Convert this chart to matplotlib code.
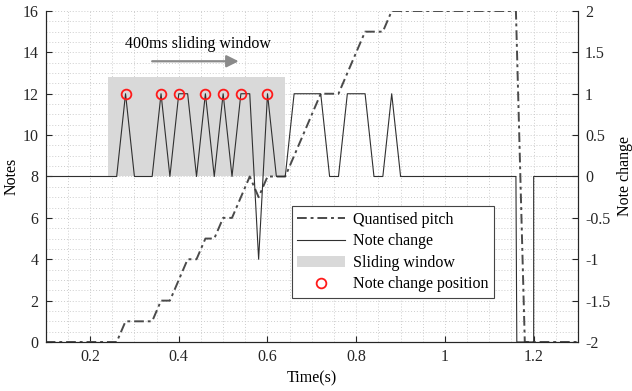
import numpy as np
import matplotlib
matplotlib.use("Agg")
import matplotlib.pyplot as plt
from matplotlib.ticker import MultipleLocator, FormatStrFormatter

# quantised pitch (left axis, notes)
pitch_t = [0.10, 0.26, 0.28, 0.34, 0.36, 0.38, 0.42, 0.44, 0.46, 0.48, 0.50, 0.52,
           0.56, 0.58, 0.60, 0.64, 0.72, 0.76, 0.82, 0.86, 0.88, 1.16, 1.18, 1.30]
pitch_v = [0, 0, 1, 1, 2, 2, 4, 4, 5, 5, 6, 6,
           8, 7, 8, 8, 12, 12, 15, 15, 16, 16, 0, 0]

# note change (right axis)
change_t = [0.10, 0.26, 0.28, 0.30, 0.34, 0.36, 0.38, 0.40, 0.42, 0.44, 0.46, 0.48,
            0.50, 0.52, 0.54, 0.56, 0.58, 0.60, 0.62, 0.64, 0.66, 0.72, 0.74, 0.76,
            0.78, 0.82, 0.84, 0.86, 0.88, 0.90, 1.16, 1.162, 1.20, 1.20, 1.30]
change_v = [0, 0, 1, 0, 0, 1, 0, 1, 1, 0, 1, 0,
            1, 0, 1, 1, -1, 1, 0, 0, 1, 1, 0, 0,
            1, 1, 0, 0, 1, 0, 0, -2, -2, 0, 0]

# note change positions
mark_t = [0.28, 0.36, 0.40, 0.46, 0.50, 0.54, 0.60]
mark_v = [1, 1, 1, 1, 1, 1, 1]

# 400 ms sliding window
win_t = [0.24, 0.64]
win_low, win_high = 8, 12.8

plt.rcParams.update({
    "font.family": "serif",
    "font.serif": ["Liberation Serif", "DejaVu Serif"],
    "font.size": 11,
    "axes.unicode_minus": False,
})

fig = plt.figure(figsize=(6.32, 3.91), dpi=100)
ax = fig.add_axes([0.0723, 0.1253, 0.8423, 0.8466])
ax2 = ax.twinx()

grid_kw = dict(color="#cdcdcd", linestyle=(0, (1, 2)), linewidth=0.7)
ax.set_xlim(0.1, 1.3)
ax.set_ylim(0, 16)
ax.xaxis.set_major_locator(MultipleLocator(0.2))
ax.xaxis.set_minor_locator(MultipleLocator(0.05))
ax.yaxis.set_major_locator(MultipleLocator(2))
ax.yaxis.set_minor_locator(MultipleLocator(0.5))
ax.xaxis.set_major_formatter(FormatStrFormatter("%g"))
ax.grid(True, which="both", **grid_kw)
ax.set_axisbelow(True)

win = ax.fill_between(win_t, win_low, win_high, color="#d9d9d9", linewidth=0,
                      label="Sliding window", zorder=1)
pl, = ax.plot(pitch_t, pitch_v, color="#4a4a4a", linewidth=1.4,
              linestyle=(0, (5, 2, 1.5, 2)), label="Quantised pitch", zorder=3)

ax2.set_ylim(-2, 2)
ax2.yaxis.set_major_locator(MultipleLocator(0.5))
ax2.yaxis.set_major_formatter(FormatStrFormatter("%g"))
cl, = ax2.plot(change_t, change_v, color="#303030", linewidth=0.8, label="Note change")
mk, = ax2.plot(mark_t, mark_v, linestyle="none", marker="o", markersize=7,
               markerfacecolor="none", markeredgecolor="#ff1a1a", markeredgewidth=1.3,
               label="Note change position")

for a in (ax, ax2):
    a.spines["top"].set_visible(False)
    for s in ("left", "right", "bottom"):
        a.spines[s].set_color("#262626")
        a.spines[s].set_linewidth(0.8)
    a.tick_params(which="both", direction="in", colors="#262626", labelsize=11.5)
    a.tick_params(which="minor", length=0)
    a.tick_params(which="major", length=4, pad=5)

ax.set_xlabel("Time(s)", fontsize=11.5, labelpad=4)
ax.set_ylabel("Notes", fontsize=11.5, labelpad=2)
ax2.set_ylabel("Note change", fontsize=11.5, labelpad=5)

ax.annotate("", xy=(0.535, 13.57), xytext=(0.34, 13.57),
            arrowprops=dict(arrowstyle="-|>", color="#8a8a8a", lw=1.6,
                            mutation_scale=18, shrinkA=0, shrinkB=0))
ax.text(0.444, 14.4, "400ms sliding window", ha="center", va="center", fontsize=11.5)

leg = ax2.legend([pl, cl, win, mk],
                 ["Quantised pitch", "Note change", "Sliding window", "Note change position"],
                 loc="upper left", bbox_to_anchor=(0.462, 0.411), borderaxespad=0,
                 fancybox=False, framealpha=1, edgecolor="#444444", fontsize=11.5,
                 handlelength=3.0, labelspacing=0.35, borderpad=0.35, handletextpad=0.5)
leg.get_frame().set_linewidth(0.8)

fig.savefig("out.png", dpi=100)
